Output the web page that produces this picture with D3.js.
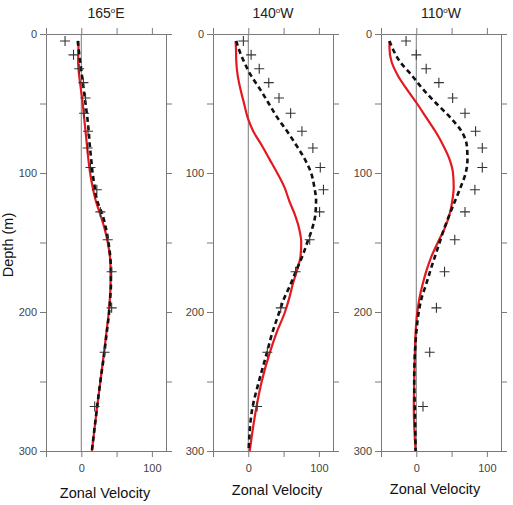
<!DOCTYPE html>
<html>
<head>
<meta charset="utf-8">
<script src="https://cdn.jsdelivr.net/npm/d3@7"></script>
<style>
  body { margin: 0; background: #fff; }
  svg { display: block; font-family: "Liberation Sans", Arial, sans-serif; }
</style>
</head>
<body>
<svg id="chart" width="513" height="505"></svg>
<script>
// panel titles (longitude) - the degree sign is drawn as a raised "o"
var titles = [["165", "E"], ["140", "W"], ["110", "W"]];

// observation depths (m), shared by all three panels
var obsDepth = [5, 15, 25, 35, 46, 57, 70, 82, 96, 112, 128, 148, 171, 197, 229, 268];
var obs165E = [-23, -11, -3, 3, 6, 4, 9.5, 9, 13, 22, 27, 37.5, 43, 43, 33, 19];
var obs140W = [-7, 4, 15.5, 29, 43.5, 60, 76, 91.5, 102, 106.5, 101, 87, 67, 46, 27, 12.5];
var obs110W = [-14.5, 0, 14, 32, 51.5, 69, 84, 93.5, 93.5, 83, 69, 54.5, 40, 28.5, 19, 9.5];

// model profile depths (m)
var lineDepth = [5, 10, 20, 30, 40, 50, 60, 70, 80, 90, 100, 110, 120, 130, 140, 150, 160, 170, 180, 190, 200, 215, 230, 250, 270, 300];
// red solid line
var red165E = [-4, -4, -4.5, -3, -0.5, 2, 4, 6, 8, 10, 12.5, 16, 20.5, 27, 33, 37.5, 40.5, 41.5, 41.5, 40.5, 39, 35.5, 32, 27, 22, 15];
var red140W = [-18, -17.5, -17, -15, -11, -6, -1, 7, 19, 30, 41, 51, 58, 66, 72, 75, 74, 69, 63, 58, 52, 40, 30, 19, 11, 2];
var red110W = [-38, -38, -35, -26, -13, 1, 14, 27, 38, 47, 52, 53, 51, 47, 40, 30.5, 21.5, 14.5, 9, 4.5, 1.5, -1, -2, -3, -3.5, -1];
// black dashed line
var dash165E = [-5, -4, -1.5, 1, 3.5, 6, 8.5, 10.5, 12, 14, 16, 19, 22.5, 30, 35, 38.5, 41, 42, 42, 41, 39.5, 36, 32.5, 27, 22, 15];
var dash140W = [-17, -14, -6, 4, 17, 29, 41, 55, 68, 80, 89, 93.5, 96, 95, 90.5, 83.5, 76.5, 68, 60, 51, 44, 34, 26, 15, 5.5, 0.5];
var dash110W = [-38, -34, -23, -6, 10, 28.5, 48, 64, 71.5, 72.5, 70, 63, 55, 47, 39.5, 33, 26.5, 20, 14, 7.5, 3.5, 0, -2, -3, -2, -1];

var velTicks = [-50, 0, 50, 100];
var depthTicks = [0, 50, 100, 150, 200, 250, 300];

var panels = [
    {left: 46, labelX: 105, labelY: 498, obs: obs165E, red: red165E, dash: dash165E},
    {left: 213, labelX: 277, labelY: 495, obs: obs140W, red: red140W, dash: dash140W},
    {left: 381, labelX: 435, labelY: 494, obs: obs110W, red: red110W, dash: dash110W}
];

var panelWidth = 120;
var svg = d3.select('#chart');

var y = d3.scaleLinear().domain([0, 300]).range([34, 451]);

function styleAxis(g) {
    g.selectAll('path, line').attr('stroke', '#7a7a7a').attr('stroke-width', 1);
    g.selectAll('text').attr('fill', '#444').style('font-size', '11px');
}

panels.forEach(function (p, i) {
    var x = d3.scaleLinear().domain([-50, 120]).range([p.left, p.left + panelWidth]);
    var g = svg.append('g');

    // axes make up the frame
    g.append('g').attr('transform', 'translate(0,' + y(0) + ')')
        .call(d3.axisTop(x).tickValues(velTicks).tickSize(6).tickSizeOuter(0).tickFormat(''))
        .call(styleAxis);
    g.append('g').attr('transform', 'translate(0,' + y(300) + ')')
        .call(d3.axisBottom(x).tickValues(velTicks).tickSize(6).tickSizeOuter(0).tickPadding(7)
            .tickFormat(function (d) { return (d === 0 || d === 100) ? d : ''; }))
        .call(styleAxis);
    g.append('g').attr('transform', 'translate(' + x(-50) + ',0)')
        .call(d3.axisLeft(y).tickValues(depthTicks).tickSize(6).tickSizeOuter(0).tickPadding(3)
            .tickFormat(function (d) { return d % 100 === 0 ? d : ''; }))
        .call(styleAxis);
    g.append('g').attr('transform', 'translate(' + x(120) + ',0)')
        .call(d3.axisRight(y).tickValues(depthTicks).tickSize(6).tickSizeOuter(0).tickFormat(''))
        .call(styleAxis);

    // zero line
    g.append('line')
        .attr('x1', x(0)).attr('x2', x(0))
        .attr('y1', y(0)).attr('y2', y(300))
        .attr('stroke', '#7a7a7a').attr('stroke-width', 1);

    var line = d3.line()
        .x(function (d) { return x(d[1]); })
        .y(function (d) { return y(d[0]); })
        .curve(d3.curveMonotoneY);

    g.append('path')
        .datum(d3.zip(lineDepth, p.red))
        .attr('d', line)
        .attr('fill', 'none')
        .attr('stroke', '#e3191f')
        .attr('stroke-width', 2.2);

    g.append('path')
        .datum(d3.zip(lineDepth, p.dash))
        .attr('d', line)
        .attr('fill', 'none')
        .attr('stroke', '#111')
        .attr('stroke-width', 2.6)
        .attr('stroke-dasharray', '5,3.5');

    // observation crosses
    var s = 5;
    g.selectAll('path.obs')
        .data(d3.zip(obsDepth, p.obs))
        .enter()
        .append('path')
        .attr('class', 'obs')
        .attr('d', function (d) {
            var cx = x(d[1]), cy = y(d[0]);
            return 'M' + (cx - s) + ',' + cy + 'H' + (cx + s) + 'M' + cx + ',' + (cy - s) + 'V' + (cy + s);
        })
        .attr('stroke', '#333')
        .attr('stroke-width', 1.1)
        .attr('fill', 'none');

    // title
    var t = g.append('text')
        .attr('x', (x(-50) + x(120)) / 2)
        .attr('y', 18)
        .attr('text-anchor', 'middle')
        .attr('fill', '#222')
        .style('font-size', '14px');
    t.append('tspan').text(titles[i][0]);
    t.append('tspan').attr('dy', -5).style('font-size', '8px').text('o');
    t.append('tspan').attr('dy', 5).text(titles[i][1]);

    // x label
    g.append('text')
        .attr('x', p.labelX)
        .attr('y', p.labelY)
        .attr('text-anchor', 'middle')
        .attr('fill', '#111')
        .style('font-size', '14.5px')
        .text('Zonal Velocity');
});

svg.append('text')
    .attr('transform', 'translate(13,245) rotate(-90)')
    .attr('text-anchor', 'middle')
    .attr('fill', '#111')
    .style('font-size', '14.5px')
    .text('Depth (m)');
</script>
</body>
</html>
